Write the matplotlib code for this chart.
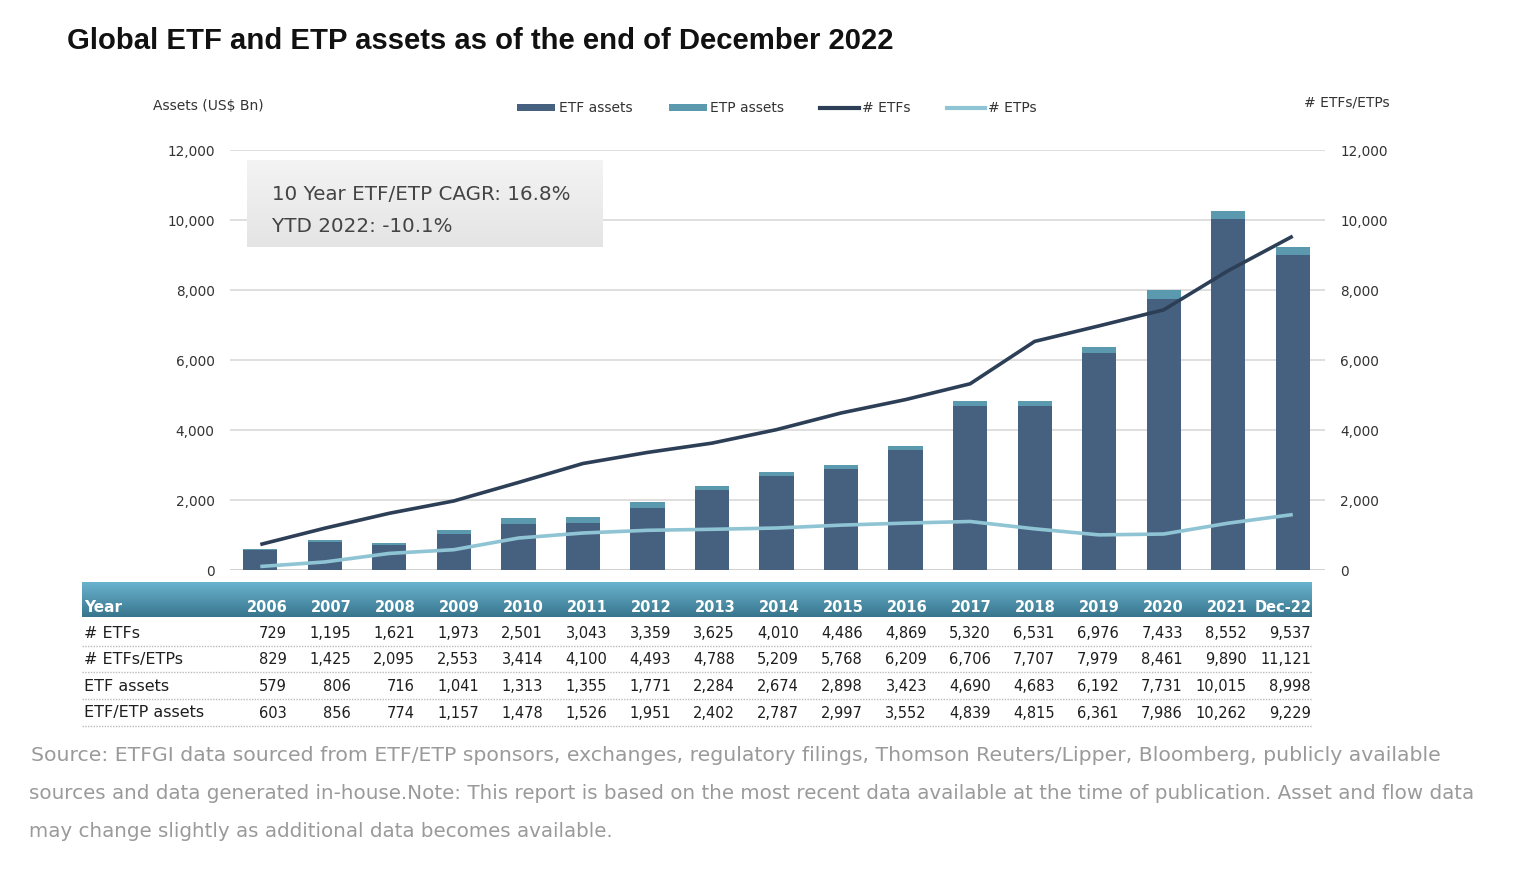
import matplotlib
matplotlib.use("Agg")
import matplotlib.pyplot as plt
import numpy as np
from matplotlib.lines import Line2D
from matplotlib.patches import Patch, Rectangle

years = ["2006", "2007", "2008", "2009", "2010", "2011", "2012", "2013", "2014",
         "2015", "2016", "2017", "2018", "2019", "2020", "2021", "Dec-22"]
n_etfs = [729, 1195, 1621, 1973, 2501, 3043, 3359, 3625, 4010, 4486, 4869, 5320,
          6531, 6976, 7433, 8552, 9537]
n_etfs_etps = [829, 1425, 2095, 2553, 3414, 4100, 4493, 4788, 5209, 5768, 6209,
               6706, 7707, 7979, 8461, 9890, 11121]
etf_assets = [579, 806, 716, 1041, 1313, 1355, 1771, 2284, 2674, 2898, 3423, 4690,
              4683, 6192, 7731, 10015, 8998]
etf_etp_assets = [603, 856, 774, 1157, 1478, 1526, 1951, 2402, 2787, 2997, 3552,
                  4839, 4815, 6361, 7986, 10262, 9229]
y_ticks = [0, 2000, 4000, 6000, 8000, 10000, 12000]

n_etps = [a - b for a, b in zip(n_etfs_etps, n_etfs)]
etp_assets = [a - b for a, b in zip(etf_etp_assets, etf_assets)]

W, H = 1516, 872
fig = plt.figure(figsize=(W / 100, H / 100), dpi=100)
fig.patch.set_facecolor("white")

def fx(x):
    return x / W

def fy(y):
    return 1 - y / H

FONT = "DejaVu Sans"
c_etf = "#46617f"
c_etp = "#5b9aae"
c_line1 = "#2d3f57"
c_line2 = "#8fc4d4"
c_text = "#333333"

# main axes
left, right, top, bottom = 230, 1325, 150, 570
ax = fig.add_axes([fx(left), fy(bottom), fx(right - left), (bottom - top) / H])
x = np.arange(len(years))
ax.bar(x, etf_assets, width=0.53, color=c_etf, zorder=2)
ax.bar(x, etp_assets, width=0.53, bottom=etf_assets, color=c_etp, zorder=2)
ax.set_xlim(-0.47, 16.5)
ax.set_ylim(0, 12000)
ax.set_yticks(y_ticks)
ax.set_yticklabels([f"{v:,}" for v in y_ticks], fontsize=9.8, color=c_text, family=FONT)
ax.tick_params(axis="y", length=0, pad=11)
ax.set_xticks([])
for s in ax.spines.values():
    s.set_visible(False)
ax.grid(axis="y", color="#d9d9d9", linewidth=1.2, zorder=0)
ax.set_axisbelow(True)

ax2 = ax.twinx()
ax2.plot(x, n_etfs, color=c_line1, linewidth=2.6, zorder=3, solid_capstyle="butt")
ax2.plot(x, n_etps, color=c_line2, linewidth=2.6, zorder=3, solid_capstyle="butt")
ax2.set_ylim(0, 12000)
ax2.set_yticks(y_ticks)
ax2.set_yticklabels([f"{v:,}" for v in y_ticks], fontsize=9.8, color=c_text, family=FONT)
ax2.tick_params(axis="y", length=0, pad=11)
for s in ax2.spines.values():
    s.set_visible(False)

ax.axhline(0, color="#d0d0d0", linewidth=1.2, zorder=1)

# axis titles
fig.text(fx(153), fy(106), "Assets (US$ Bn)", fontsize=10, color=c_text, family=FONT,
         va="center", ha="left")
fig.text(fx(1390), fy(102), "# ETFs/ETPs", fontsize=10, color=c_text, family=FONT,
         va="center", ha="right")

# title
fig.text(fx(67), fy(41), "Global ETF and ETP assets as of the end of December 2022",
         fontsize=21.1, fontweight="bold", family="Liberation Sans", color="#111111",
         va="center", ha="left")

# legend
handles = [Patch(facecolor=c_etf), Patch(facecolor=c_etp),
           Line2D([0], [0], color=c_line1, linewidth=3),
           Line2D([0], [0], color=c_line2, linewidth=3)]
labels = ["ETF assets", "ETP assets", "# ETFs", "# ETPs"]
leg = fig.legend(handles, labels, loc="center", bbox_to_anchor=(fx(777), fy(108)),
                 ncol=4, frameon=False, handlelength=2.75, handleheight=0.4,
                 handletextpad=0.25, columnspacing=2.6, prop={"family": FONT, "size": 10})
for t in leg.get_texts():
    t.set_color(c_text)

# annotation box with soft shadow
fig.add_artist(Rectangle((fx(249), fy(250)), fx(603 - 247), (247 - 160) / H,
                         facecolor="#d8d8d8", edgecolor="none", alpha=0.6,
                         transform=fig.transFigure, zorder=0))
box_ax = fig.add_axes([fx(247), fy(247), fx(603 - 247), (247 - 160) / H])
grad = np.linspace(0.955, 0.895, 100).reshape(-1, 1)
box_ax.imshow(np.dstack([grad, grad, grad]), aspect="auto", extent=[0, 1, 0, 1])
box_ax.set_axis_off()
fig.text(fx(272), fy(194), "10 Year ETF/ETP CAGR: 16.8%", fontsize=14.3, color="#444444",
         family=FONT, va="center", ha="left")
fig.text(fx(272), fy(227), "YTD 2022: -10.1%", fontsize=14.3, color="#444444",
         family=FONT, va="center", ha="left")

# table header band
hb_ax = fig.add_axes([fx(82), fy(617), fx(1312 - 82), (617 - 582) / H])
t = np.linspace(0, 1, 100).reshape(-1, 1)
top_c = np.array([0.42, 0.71, 0.82])
bot_c = np.array([0.22, 0.46, 0.55])
band = top_c * (1 - t[..., None]) + bot_c * t[..., None]
hb_ax.imshow(band, aspect="auto", extent=[0, 1, 0, 1])
hb_ax.set_axis_off()

col_right = [287 + 64 * i for i in range(len(years))]
fig.text(fx(84), fy(607), "Year", fontsize=11, fontweight="bold", color="white",
         family=FONT, va="center", ha="left")
for i, yl in enumerate(years):
    fig.text(fx(col_right[i] + 1), fy(607), yl, fontsize=10.5, fontweight="bold",
             color="white", family=FONT, va="center", ha="right")

rows = [("# ETFs", n_etfs), ("# ETFs/ETPs", n_etfs_etps),
        ("ETF assets", etf_assets), ("ETF/ETP assets", etf_etp_assets)]
row_y = [633, 659, 686, 713]
for (lab, vals), ry in zip(rows, row_y):
    fig.text(fx(84), fy(ry), lab, fontsize=11.5, color="#1e1e1e", family=FONT,
             va="center", ha="left")
    for i, v in enumerate(vals):
        fig.text(fx(col_right[i]), fy(ry), f"{v:,}", fontsize=10.5, color="#1e1e1e",
                 family=FONT, va="center", ha="right")
    ly = fy(ry + 13)
    fig.add_artist(Line2D([fx(82), fx(1312)], [ly, ly], color="#bbbbbb",
                          linewidth=1.0, linestyle=(0, (1, 1))))

# source note
src = ["Source: ETFGI data sourced from ETF/ETP sponsors, exchanges, regulatory filings, Thomson Reuters/Lipper, Bloomberg, publicly available",
       "sources and data generated in-house.Note: This report is based on the most recent data available at the time of publication. Asset and flow data",
       "may change slightly as additional data becomes available."]
for s, yy, xx, sz in zip(src, [755, 793, 831], [31, 29, 29], [14.7, 14.35, 14.35]):
    fig.text(fx(xx), fy(yy), s, fontsize=sz, color="#9a9a9a", family=FONT,
             va="center", ha="left")

fig.savefig("out.png", dpi=100)
